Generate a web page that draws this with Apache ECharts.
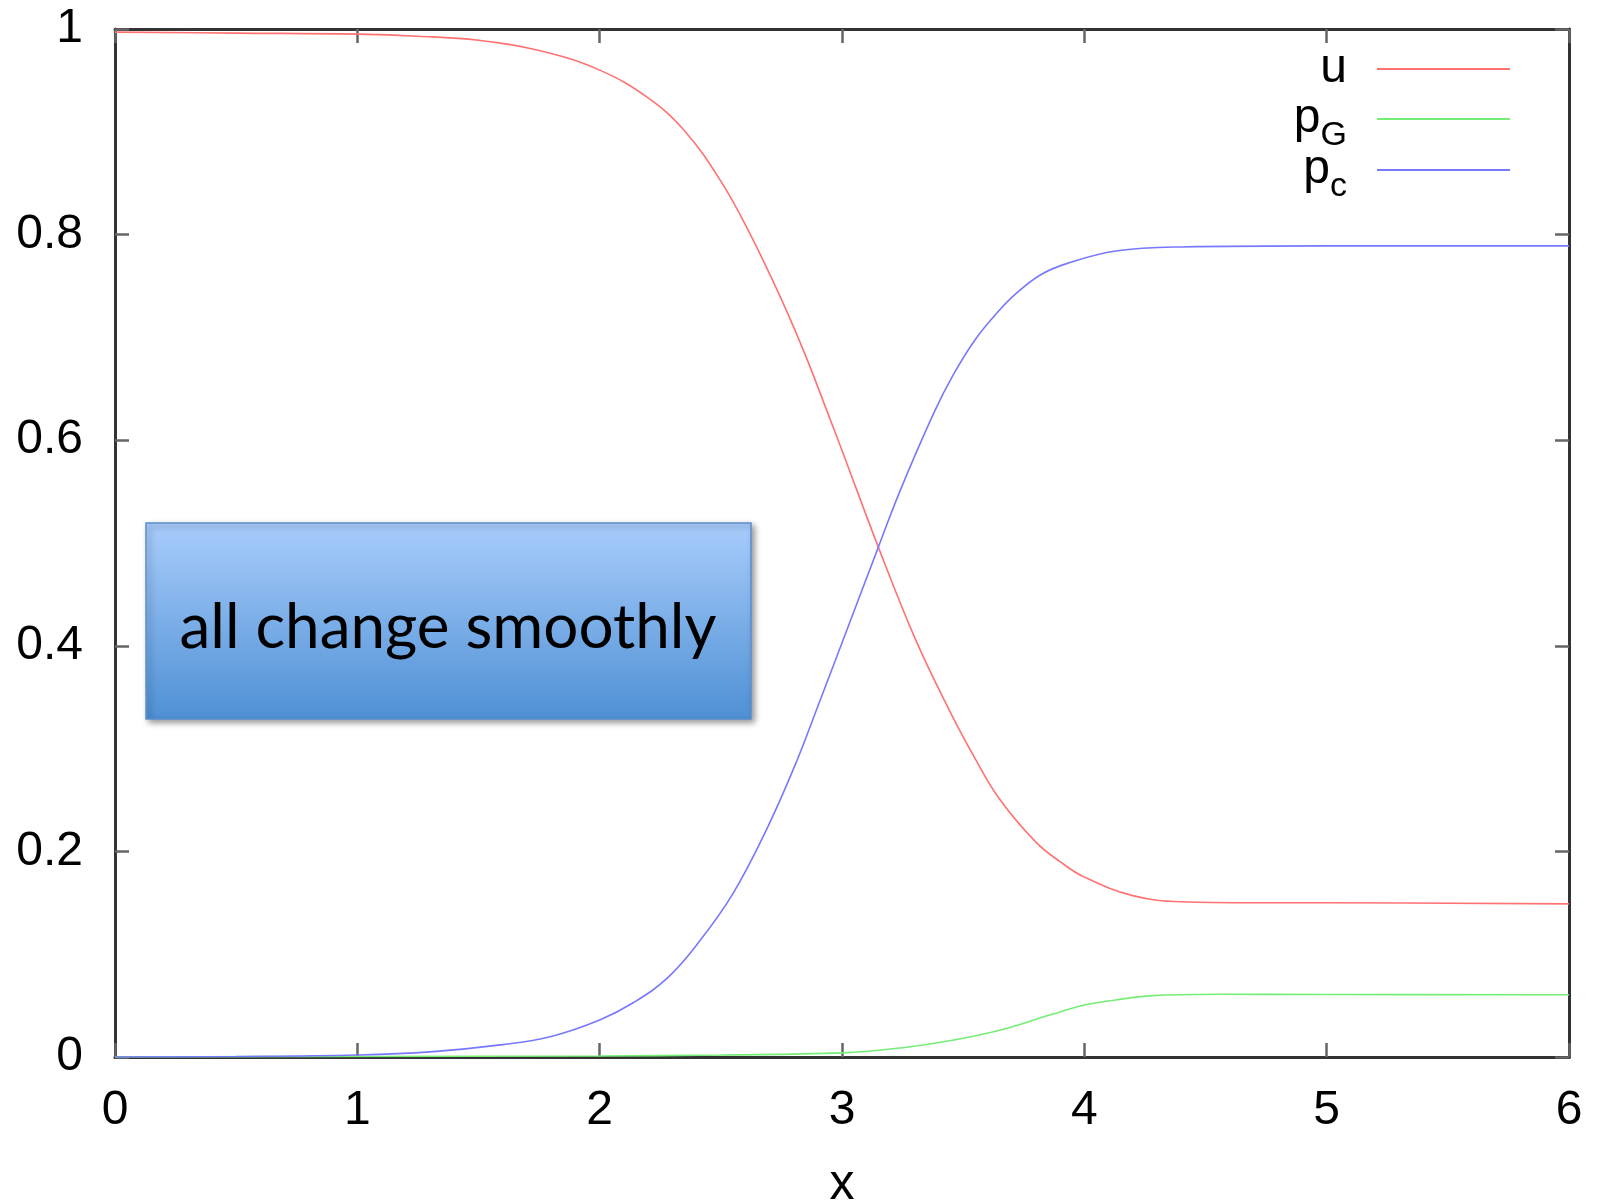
<!DOCTYPE html>
<html>
<head>
<meta charset="utf-8">
<script src="https://cdn.jsdelivr.net/npm/echarts@6/dist/echarts.min.js"></script>
<style>
  html, body { margin: 0; padding: 0; background: #fff; }
  #chart { width: 1599px; height: 1203px; }
</style>
</head>
<body>
<div id="chart"></div>
<script>
// values
const uX  = [0, 0.5, 1, 1.25, 1.5, 1.75, 2, 2.2, 2.35, 2.5, 2.62, 2.75, 2.85, 2.95, 3, 3.15, 3.3, 3.45, 3.55, 3.65, 3.8, 3.9, 4, 4.2, 4.4, 4.7, 5, 6];
const uY  = [0.997, 0.996, 0.995, 0.993, 0.989, 0.979, 0.960, 0.933, 0.901, 0.852, 0.801, 0.737, 0.682, 0.621, 0.590, 0.496, 0.408, 0.334, 0.290, 0.251, 0.209, 0.190, 0.175, 0.157, 0.151, 0.150, 0.150, 0.149];

const pgX = [0, 1, 2, 2.5, 3, 3.25, 3.45, 3.65, 3.86, 4, 4.13, 4.27, 4.55, 5, 6];
const pgY = [0, 0.0005, 0.001, 0.002, 0.004, 0.009, 0.016, 0.026, 0.041, 0.0505, 0.0555, 0.0595, 0.061, 0.0608, 0.0605];

const pcX = [0, 0.5, 1, 1.3, 1.6, 1.8, 2, 2.14, 2.28, 2.41, 2.55, 2.69, 2.81, 2.9, 3.01, 3.15, 3.24, 3.38, 3.46, 3.55, 3.64, 3.72, 3.82, 3.93, 4.13, 4.4, 5, 6];
const pcY = [0, 0.0005, 0.002, 0.005, 0.012, 0.020, 0.036, 0.053, 0.077, 0.112, 0.159, 0.222, 0.286, 0.341, 0.409, 0.496, 0.551, 0.627, 0.664, 0.698, 0.724, 0.743, 0.761, 0.772, 0.784, 0.788, 0.789, 0.789];

const xTicks = [0, 6, 1];
const yTicks = [0, 1, 0.2];
const names = ['u', 'pG', 'pc'];
const colors = ['#ff7272', '#74ee74', '#7878ff'];
const note = 'all change smoothly';

function pairs(xs, ys) {
    return xs.map((x, i) => [x, ys[i]]);
}

const font = '"Liberation Sans", Arial, sans-serif';
const frame = { show: true, onZero: false, lineStyle: { color: '#333', width: 3 } };
const tick = { show: true, inside: true, length: 14, lineStyle: { color: '#666', width: 2.5 } };

// one legend per entry so the rows sit 50px apart
const legendTops = [40, 90, 141];
const legends = names.map((n, i) => ({
    orient: 'vertical',
    right: 84,
    top: legendTops[i],
    itemWidth: 133,
    itemHeight: 2,
    icon: 'rect',
    align: 'right',
    data: [n],
    formatter: function (name) {
        if (name === 'u') return '{m|u}';
        return '{m|p}{s|' + name.slice(1) + '}';
    },
    textStyle: {
        padding: [0, 25, 0, 0],
        rich: {
            m: { fontSize: 48, fontFamily: font, color: '#000' },
            s: { fontSize: 34, fontFamily: font, color: '#000', padding: [34, 0, 0, 0] }
        }
    }
}));

const chart = echarts.init(document.getElementById('chart'));
chart.setOption({
    animation: false,
    color: colors,
    grid: { left: 115, right: 30, top: 29, bottom: 146, outerBoundsMode: 'none' },
    legend: legends,
    xAxis: [
        {
            type: 'value', min: xTicks[0], max: xTicks[1], interval: xTicks[2],
            name: 'x', nameLocation: 'middle', nameGap: 103,
            nameTextStyle: { fontSize: 50, fontFamily: font, color: '#000' },
            axisLine: frame, axisTick: tick, splitLine: { show: false },
            axisLabel: { fontSize: 48, fontFamily: font, color: '#000', margin: 30 }
        },
        {
            type: 'value', position: 'top', min: xTicks[0], max: xTicks[1], interval: xTicks[2],
            axisLine: frame, axisTick: tick, splitLine: { show: false }, axisLabel: { show: false }
        }
    ],
    yAxis: [
        {
            type: 'value', min: yTicks[0], max: yTicks[1], interval: yTicks[2],
            axisLine: frame, axisTick: tick, splitLine: { show: false },
            axisLabel: { fontSize: 48, fontFamily: font, color: '#000', margin: 32 }
        },
        {
            type: 'value', position: 'right', min: yTicks[0], max: yTicks[1], interval: yTicks[2],
            axisLine: frame, axisTick: tick, splitLine: { show: false }, axisLabel: { show: false }
        }
    ],
    series: [
        { name: names[0], type: 'line', data: pairs(uX, uY) },
        { name: names[1], type: 'line', data: pairs(pgX, pgY) },
        { name: names[2], type: 'line', data: pairs(pcX, pcY) }
    ].map(s => Object.assign(s, {
        showSymbol: false, symbol: 'none', smooth: 0.4,
        lineStyle: { width: 1.6 }
    })),
    graphic: [
        {
            type: 'rect', z: 100,
            shape: { x: 146, y: 523, width: 605, height: 196 },
            style: {
                fill: new echarts.graphic.LinearGradient(0, 0, 0, 1, [
                    { offset: 0, color: '#a9cdfc' },
                    { offset: 1, color: '#4e90d4' }
                ]),
                stroke: '#5b8ecf', lineWidth: 1.5,
                shadowBlur: 6, shadowOffsetX: 3, shadowOffsetY: 3,
                shadowColor: 'rgba(0,0,0,0.4)'
            }
        },
        {
            type: 'text', z: 101, x: 448, y: 628,
            style: {
                text: note, fill: '#000', font: '62px Lato, "Open Sans", sans-serif',
                textAlign: 'center', textVerticalAlign: 'middle'
            }
        }
    ]
});
</script>
</body>
</html>
